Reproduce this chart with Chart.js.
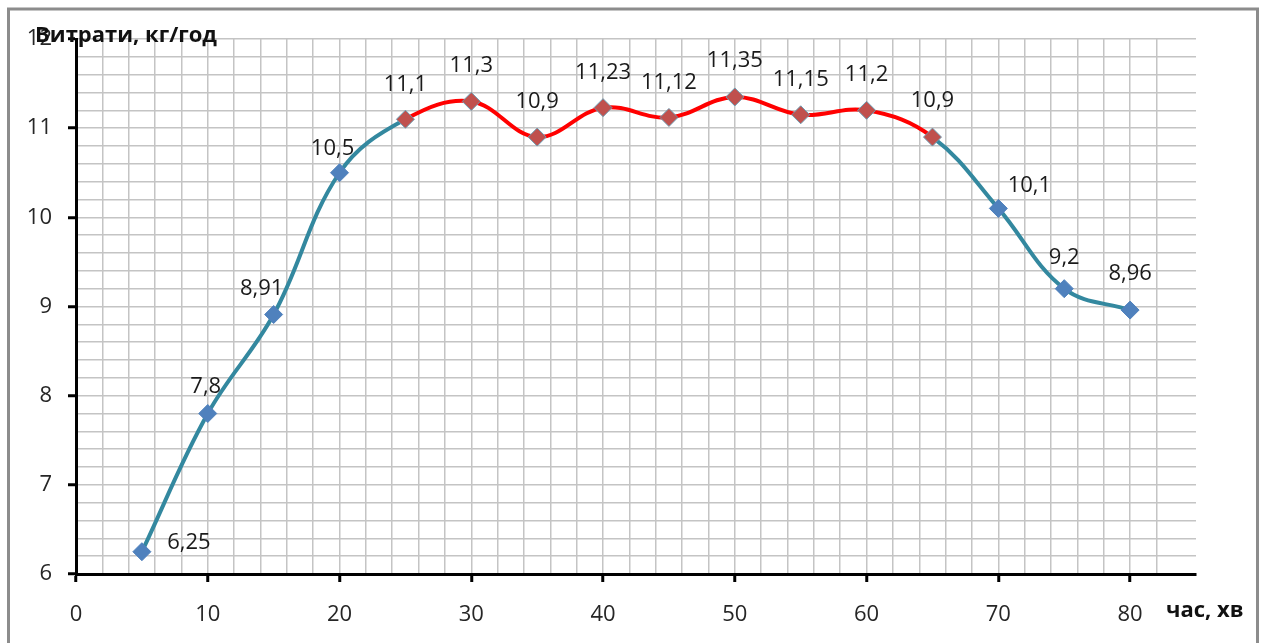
<!DOCTYPE html>
<html>
<head>
<meta charset="utf-8">
<script src="https://cdn.jsdelivr.net/npm/chart.js@4/dist/chart.umd.min.js"></script>
<style>
  body { margin: 0; background: #fff; }
  canvas { display: block; }
</style>
</head>
<body>
<canvas id="myChart" width="1262" height="643"></canvas>
<script>
// data
var minutes = [5, 10, 15, 20, 25, 30, 35, 40, 45, 50, 55, 60, 65, 70, 75, 80];
var usage = [6.25, 7.8, 8.91, 10.5, 11.1, 11.3, 10.9, 11.23, 11.12, 11.35, 11.15, 11.2, 10.9, 10.1, 9.2, 8.96];
var usageLabels = ["6,25", "7,8", "8,91", "10,5", "11,1", "11,3", "10,9", "11,23", "11,12", "11,35", "11,15", "11,2", "10,9", "10,1", "9,2", "8,96"];
var xTickLabels = [0, 10, 20, 30, 40, 50, 60, 70, 80];
var yTickLabels = [6, 7, 8, 9, 10, 11, 12];
var redFrom = 4, redTo = 12;   // red part of the curve (25..65 min)

// label offsets from point (style, px)
var labelDx = [47, -2, -12, -7, 0, 0, 0, 0, 0, 0, 0, 0, 0, 31, 0, 0];
var labelDy = [-9, -27, -26, -24, -35, -36, -35, -35, -35, -36, -35, -36, -36, -23, -31, -36];

var TEAL = '#33889f';
var RED = '#ff0000';
var FONT = '"Open Sans", sans-serif';

var points = minutes.map(function(m, i) { return { x: m, y: usage[i] }; });
var isRed = function(i) { return i >= redFrom && i <= redTo; };

var isInt = function(v) { return Math.abs(v - Math.round(v)) < 1e-6; };

var framePlugin = {
  id: 'frame',
  beforeDraw: function(chart) {
    var c = chart.ctx;
    c.save();
    c.fillStyle = '#fff';
    c.fillRect(0, 0, chart.width, chart.height);
    c.strokeStyle = '#8c8c8c';
    c.lineWidth = 3;
    c.strokeRect(8.5, 9, 1249, 640);
    c.restore();
  },
  afterDraw: function(chart) {
    var c = chart.ctx;
    c.save();
    c.fillStyle = '#111';
    c.font = 'bold 22px ' + FONT;
    c.textBaseline = 'middle';
    c.textAlign = 'left';
    c.fillText('Витрати, кг/год', 35, 36);
    c.fillText('час, хв', 1166, 611);
    c.restore();
  }
};

var labelPlugin = {
  id: 'valueLabels',
  afterDatasetsDraw: function(chart) {
    var meta = chart.getDatasetMeta(0);
    var c = chart.ctx;
    c.save();
    c.font = '22px ' + FONT;
    c.fillStyle = '#1a1a1a';
    c.textAlign = 'center';
    c.textBaseline = 'middle';
    meta.data.forEach(function(pt, i) {
      c.fillText(usageLabels[i], pt.x + labelDx[i], pt.y + labelDy[i]);
    });
    c.restore();
  }
};

var ctx = document.getElementById('myChart').getContext('2d');
var chart = new Chart(ctx, {
  type: 'line',
  data: {
    datasets: [{
      data: points,
      borderColor: TEAL,
      borderWidth: 4,
      tension: 0.38,
      fill: false,
      segment: {
        borderColor: function(s) { return (s.p0DataIndex >= redFrom && s.p1DataIndex <= redTo) ? RED : TEAL; }
      },
      pointStyle: 'rectRot',
      pointRadius: 9,
      pointHoverRadius: 9,
      pointBackgroundColor: minutes.map(function(m, i) { return isRed(i) ? '#c0504d' : '#4f81bd'; }),
      pointBorderColor: minutes.map(function(m, i) { return isRed(i) ? '#6b9db3' : '#4f81bd'; }),
      pointBorderWidth: 1
    }]
  },
  options: {
    responsive: false,
    animation: false,
    events: [],
    clip: false,
    layout: { padding: { top: 39, right: 66, left: 0, bottom: 0 } },
    plugins: { legend: { display: false }, tooltip: { enabled: false } },
    scales: {
      x: {
        type: 'linear',
        min: 0,
        max: 85,
        afterBuildTicks: function(scale) {
          scale.ticks = scale.ticks.filter(function(t) { return t.value <= 84; });
        },
        afterFit: function(scale) { scale.height = 69; },
        border: { color: '#000', width: 3 },
        grid: {
          color: '#c4c4c4',
          lineWidth: 1.5,
          tickLength: 8,
          tickWidth: 3,
          tickColor: function(c) { return c.tick && xTickLabels.indexOf(c.tick.value) >= 0 ? '#000' : 'rgba(0,0,0,0)'; }
        },
        ticks: {
          stepSize: 2,
          autoSkip: false,
          maxRotation: 0,
          padding: 20,
          color: '#262626',
          font: { family: FONT, size: 22 },
          callback: function(v) { return xTickLabels.indexOf(v) >= 0 ? String(v) : ''; }
        }
      },
      y: {
        min: 6,
        max: 12,
        afterFit: function(scale) { scale.width = 76; },
        border: { color: '#000', width: 3 },
        grid: {
          color: '#c4c4c4',
          lineWidth: 1.5,
          tickLength: 8,
          tickWidth: 3,
          tickColor: function(c) { return c.tick && isInt(c.tick.value) ? '#000' : 'rgba(0,0,0,0)'; }
        },
        ticks: {
          stepSize: 0.2,
          autoSkip: false,
          padding: 16,
          color: '#262626',
          font: { family: FONT, size: 22 },
          callback: function(v) {
            if (!isInt(v)) return '';
            var r = Math.round(v);
            return yTickLabels.indexOf(r) >= 0 ? String(r) : '';
          }
        }
      }
    }
  },
  plugins: [framePlugin, labelPlugin]
});
</script>
</body>
</html>
